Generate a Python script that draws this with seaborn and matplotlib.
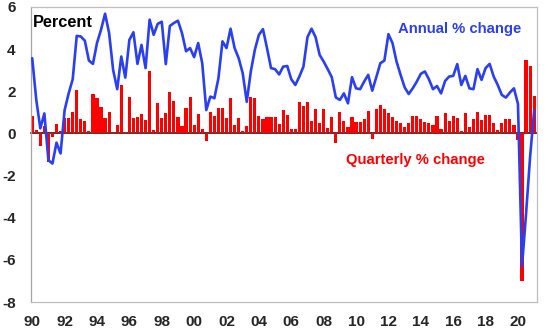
import matplotlib
matplotlib.use("Agg")
import matplotlib.pyplot as plt
import seaborn as sns
import pandas as pd

# ---- data ----
quarters = [f"{y}Q{q}" for y in range(1990, 2022) for q in range(1, 5)][:125]

quarterly_change = [
    0.85, 0.15, -0.6, 0.35, -1.35, -0.15, 0.45, 0.1, 0.75, 0.75, 1.0, 2.05,
    0.7, 0.6, 0.1, 1.85, 1.7, 1.25, 0.75, 1.0, -0.02, 0.38, 2.3, 0.05,
    1.72, 0.72, 0.8, 0.92, 0.63, 2.97, 0.15, 1.45, 0.72, 0.98, 1.95, 1.55,
    0.8, 0.35, 1.2, 1.72, 0.38, 0.93, 0.2, -0.38, 1.0, 0.85, 1.2, 1.2,
    0.75, 1.7, 0.38, 0.75, 0.12, 0.35, 1.72, 1.68, 0.85, 0.7, 0.78, 0.8,
    0.8, 0.45,
    1.1, 0.86, 0.22, 0.19, 1.5, 1.3, 1.5, 0.6, 1.14, 0.5, 1.14, 0.25,
    0.8, -0.45, 1.0, 0.57, 0.3, 0.76, 0.52, 0.52, 0.7, 1.05, -0.27, 1.17,
    1.37, 1.17, 0.95, 0.76, 0.6, 0.5, 0.3, 0.5, 0.83, 0.83, 0.67, 0.54,
    0.48, 0.4, 0.84, 0.19, 0.98, 0.6, 0.83, 0.73, 0.13, 0.98, 0.29, 0.7,
    1.0, 0.63, 0.87, 0.87, 0.48, 0.16, 0.48, 0.67, 0.7, 0.38, -0.3, -7.0,
    3.5, 3.2, 1.8,
]

annual_change = [
    3.57, 1.6, 0.24, 0.95, -1.27, -1.43, -0.44, -0.95, 1.1, 1.9, 2.57, 4.63,
    4.6, 4.4, 3.46, 3.3, 4.29, 4.92, 5.68, 4.76, 3.0, 2.1, 3.65, 2.65,
    4.44, 4.8, 3.3, 4.2, 3.1, 5.4, 4.68, 5.2, 5.3, 3.29, 5.1, 5.24,
    5.35, 4.76, 3.9, 4.05, 3.62, 4.29, 3.33, 1.11, 1.75, 1.67, 2.62, 4.37,
    4.05, 4.97, 4.05, 3.57, 2.86, 1.5, 2.94, 3.97, 4.68, 4.95, 4.05, 3.1,
    3.05, 2.8,
    3.17, 3.2, 2.57, 2.3, 2.7, 3.17, 4.57, 4.97, 4.57, 3.73, 3.41, 3.05,
    2.67, 1.71, 1.59, 1.9, 1.43, 2.67, 2.14, 2.1, 2.46, 2.78, 2.03, 2.67,
    3.33, 3.46, 4.71, 4.29, 3.41, 2.78, 2.19, 1.87, 2.14, 2.46, 2.83, 2.94,
    2.57, 2.1, 2.25, 1.9, 2.49, 2.7, 2.73, 3.29, 2.3, 2.73, 2.14, 2.1,
    3.05, 2.54, 3.1, 3.3, 2.7, 2.3, 1.83, 1.7, 1.94, 2.14, 1.4, -6.3,
    -3.8, -1.1, 1.1,
]

year_tick_labels = ["90", "92", "94", "96", "98", "00", "02", "04", "06",
                    "08", "10", "12", "14", "16", "18", "20"]
y_ticks = [-8, -6, -4, -2, 0, 2, 4, 6]

# ---- styling ----
sns.set_theme(style="white")
plt.rcParams["font.family"] = ["Liberation Sans", "DejaVu Sans"]

RED = "#FF0000"
BLUE = "#2A3FF2"
GRID = "#BFBFBF"

df = pd.DataFrame({
    "pos": list(range(len(quarters))),
    "quarter": quarters,
    "quarterly": quarterly_change,
    "annual": annual_change,
})

fig = plt.figure(figsize=(5.48, 3.34), dpi=100)
ax = fig.add_axes([31 / 548, 32 / 334, 506 / 548, 295 / 334])

sns.barplot(data=df, x="pos", y="quarterly", color=RED, width=0.78,
            saturation=1, ax=ax, zorder=2, edgecolor="none")
sns.lineplot(data=df, x="pos", y="annual", color=BLUE, linewidth=1.9,
             ax=ax, zorder=3)

ax.set_xlim(-0.3, len(quarters) - 0.3)
ax.set_ylim(-8, 6)
ax.set_xlabel("")
ax.set_ylabel("")

ax.set_xticks(list(range(0, len(quarters), 8))[:len(year_tick_labels)])
ax.set_xticklabels(year_tick_labels, fontsize=11, fontweight="bold")
ax.set_yticks(y_ticks)
ax.set_yticklabels([str(v) for v in y_ticks], fontsize=11, fontweight="bold")
ax.tick_params(axis="x", length=0, pad=9)
ax.tick_params(axis="y", length=0, pad=11)

for side in ["top", "right", "bottom", "left"]:
    ax.spines[side].set_visible(True)
    ax.spines[side].set_color(GRID)
    ax.spines[side].set_linewidth(0.9)
ax.spines["left"].set_color("#A6A6A6")

# zero line with small tick marks
zero_frac = (0 - (-8)) / (6 - (-8))
sec = ax.secondary_xaxis(zero_frac)
sec.set_xticks(list(range(0, len(quarters), 8))[:len(year_tick_labels)])
sec.set_xticklabels([])
sec.tick_params(axis="x", direction="out", length=2.5, color=GRID, width=0.8)
sec.spines["bottom"].set_color(GRID)
sec.spines["bottom"].set_linewidth(0.8)
sec.spines["bottom"].set_zorder(1)

ax.text(0.004, 0.946, "Percent", transform=ax.transAxes, fontsize=11.8,
        fontweight="bold", color="black", va="center", ha="left")
ax.text(0.725, 0.925, "Annual % change", transform=ax.transAxes,
        fontsize=10.7, fontweight="bold", color=BLUE, va="center", ha="left")
ax.text(0.6225, 0.481, "Quarterly % change", transform=ax.transAxes,
        fontsize=10.7, fontweight="bold", color=RED, va="center", ha="left")

fig.savefig("out.png", dpi=100)
